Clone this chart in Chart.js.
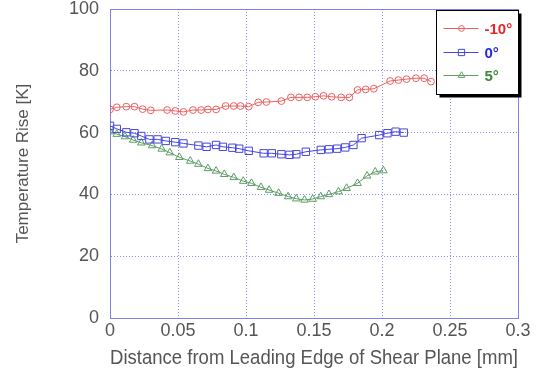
<!DOCTYPE html>
<html>
<head>
<meta charset="utf-8">
<script src="https://cdn.jsdelivr.net/npm/chart.js@4/dist/chart.umd.min.js"></script>
<style>
html,body{margin:0;padding:0;background:#fff;}
#wrap{width:536px;height:369px;position:relative;}
</style>
</head>
<body>
<div id="wrap"><canvas id="c" width="536" height="369"></canvas></div>
<script>
// ---- data ----
const seriesNames = ['-10°', '0°', '5°'];

const redX = [0, 0.005, 0.012, 0.018, 0.024, 0.030, 0.042, 0.048, 0.054, 0.061, 0.067, 0.072, 0.078, 0.085, 0.091, 0.096, 0.102, 0.109, 0.115, 0.126, 0.133, 0.139, 0.145, 0.151, 0.157, 0.163, 0.170, 0.176, 0.182, 0.188, 0.194, 0.206, 0.212, 0.218, 0.225, 0.231, 0.236];
const redY = [67.5, 68.2, 68.4, 68.4, 67.6, 67.2, 67.3, 67.0, 66.7, 67.3, 67.3, 67.5, 67.5, 68.6, 68.6, 68.6, 68.4, 69.8, 69.9, 70.2, 71.4, 71.4, 71.4, 71.6, 71.9, 71.6, 71.4, 71.4, 73.8, 74.0, 74.2, 76.7, 77.0, 77.3, 77.6, 77.6, 76.5];

const blueX = [0, 0.005, 0.012, 0.018, 0.023, 0.029, 0.035, 0.041, 0.048, 0.054, 0.065, 0.071, 0.078, 0.083, 0.090, 0.095, 0.102, 0.113, 0.119, 0.126, 0.132, 0.137, 0.144, 0.155, 0.161, 0.167, 0.173, 0.179, 0.185, 0.198, 0.204, 0.210, 0.216];
const blueY = [62.2, 61.2, 60.1, 59.8, 58.9, 57.8, 57.8, 57.3, 56.9, 56.5, 55.8, 55.4, 56.0, 55.4, 55.1, 54.8, 54.1, 53.3, 53.3, 53.0, 52.8, 53.0, 53.8, 54.4, 54.6, 54.8, 55.2, 56.0, 58.2, 59.2, 59.8, 60.3, 60.0];

const greenX = [0, 0.005, 0.011, 0.017, 0.023, 0.031, 0.038, 0.044, 0.051, 0.059, 0.065, 0.072, 0.078, 0.084, 0.091, 0.098, 0.104, 0.111, 0.117, 0.124, 0.131, 0.137, 0.143, 0.149, 0.155, 0.161, 0.168, 0.174, 0.182, 0.189, 0.195, 0.201];
const greenY = [60.3, 59.5, 58.7, 57.6, 56.7, 55.8, 54.7, 53.5, 52.0, 50.8, 49.8, 48.4, 47.6, 46.5, 45.5, 44.3, 43.6, 42.3, 41.4, 40.4, 39.3, 38.6, 38.2, 38.5, 39.3, 40.0, 40.9, 42.0, 43.6, 46.0, 47.3, 47.7];

const xTickLabels = ['0', '0.05', '0.1', '0.15', '0.2', '0.25', '0.3'];
const yTickLabels = ['0', '20', '40', '60', '80', '100'];
const xTitle = 'Distance from Leading Edge of Shear Plane [mm]';
const yTitle = 'Temperature Rise [K]';

// ---- styles ----
const lineColors = ['rgb(236,96,96)', 'rgb(70,70,222)', 'rgb(92,158,100)'];
const textColors = ['rgb(232,40,40)', 'rgb(40,40,220)', 'rgb(60,135,60)'];
const markerStyles = ['circle', 'rect', 'triangle'];
const markerRadius = [3.4, 5.2, 4.4];
const axisColor = 'rgb(128,128,232)';
const gridColor = 'rgb(140,140,236)';
const labelColor = 'rgb(85,85,85)';
const FONT = '"Liberation Sans", Arial, Helvetica, sans-serif';

function toPoints(xs, ys) { return xs.map((x, i) => ({x: x, y: ys[i]})); }

const seriesData = [toPoints(redX, redY), toPoints(blueX, blueY), toPoints(greenX, greenY)];

const datasets = seriesData.map((d, i) => ({
  label: seriesNames[i],
  data: d,
  showLine: true,
  borderColor: lineColors[i],
  borderWidth: 1,
  backgroundColor: 'rgba(0,0,0,0)',
  pointStyle: markerStyles[i],
  pointRadius: markerRadius[i],
  pointBorderWidth: 1,
  pointBorderColor: lineColors[i],
  pointBackgroundColor: 'rgba(0,0,0,0)',
  tension: 0,
  fill: false
}));

function drawMarker(ctx, style, x, y, r) {
  ctx.beginPath();
  if (style === 'circle') {
    ctx.arc(x, y, r, 0, Math.PI * 2);
  } else if (style === 'rect') {
    const s = Math.SQRT1_2 * r;
    ctx.rect(x - s, y - s, 2 * s, 2 * s);
  } else {
    ctx.moveTo(x, y - r);
    ctx.lineTo(x + r * Math.cos(Math.PI / 6), y + r / 2);
    ctx.lineTo(x - r * Math.cos(Math.PI / 6), y + r / 2);
    ctx.closePath();
  }
  ctx.stroke();
}

const framePlugin = {
  id: 'frame',
  beforeDatasetsDraw(chart) {
    const a = chart.chartArea, ctx = chart.ctx;
    ctx.save();
    ctx.strokeStyle = axisColor;
    ctx.lineWidth = 1;
    ctx.strokeRect(Math.round(a.left) + 0.5, Math.round(a.top) + 0.5, Math.round(a.right - a.left), Math.round(a.bottom - a.top));
    ctx.restore();
  }
};

const legendPlugin = {
  id: 'boxLegend',
  afterDatasetsDraw(chart) {
    const ctx = chart.ctx;
    const a = chart.chartArea;
    const bw = 82, bh = 84;
    const bx = Math.round(a.right) - bw + 0.5;
    const by = Math.round(a.top) + 1.5;
    ctx.save();
    ctx.fillStyle = '#000';
    ctx.fillRect(bx + 3, by + 3, bw, bh);
    ctx.fillStyle = '#fff';
    ctx.fillRect(bx, by, bw, bh);
    ctx.strokeStyle = '#000';
    ctx.lineWidth = 1;
    ctx.strokeRect(bx, by, bw, bh);
    const rowY = [by + 17.5, by + 41, by + 64];
    for (let i = 0; i < seriesNames.length; i++) {
      const y = Math.round(rowY[i]) + 0.5;
      ctx.strokeStyle = lineColors[i];
      ctx.lineWidth = 1;
      ctx.beginPath();
      ctx.moveTo(bx + 7, y);
      ctx.lineTo(bx + 42, y);
      ctx.stroke();
      drawMarker(ctx, markerStyles[i], bx + 25, y, markerRadius[i] * 0.85);
      ctx.fillStyle = textColors[i];
      ctx.font = 'bold 15px ' + FONT;
      ctx.textAlign = 'left';
      ctx.textBaseline = 'middle';
      ctx.fillText(seriesNames[i], bx + 48, y + 1);
    }
    ctx.restore();
  }
};

new Chart(document.getElementById('c'), {
  type: 'scatter',
  data: { datasets: datasets },
  options: {
    responsive: false,
    animation: false,
    layout: { padding: { left: 0, right: 18, top: 9, bottom: 0 } },
    plugins: { legend: { display: false }, tooltip: { enabled: false } },
    scales: {
      x: {
        type: 'linear',
        min: 0, max: 0.3,
        afterBuildTicks(s) { s.ticks = xTickLabels.map(t => ({value: parseFloat(t)})); },
        afterFit(s) { s.height = 51; s.paddingLeft = 0; s.paddingRight = 0; },
        ticks: {
          autoSkip: false,
          maxRotation: 0,
          padding: 2,
          color: labelColor,
          font: { family: FONT, size: 18 },
          callback(v, i) { return xTickLabels[i]; }
        },
        grid: { color: gridColor, lineWidth: 1, drawTicks: false },
        border: { display: true, color: axisColor, width: 1, dash: [1, 2] },
        title: {
          display: true, text: xTitle, color: labelColor,
          font: { family: FONT, size: 19.3, lineHeight: 1.1 },
          padding: { top: 0, bottom: 0 }
        }
      },
      y: {
        type: 'linear',
        min: 0, max: 100,
        afterBuildTicks(s) { s.ticks = yTickLabels.map(t => ({value: parseFloat(t)})); },
        afterFit(s) { s.width = 110; s.paddingTop = 0; s.paddingBottom = 0; },
        ticks: {
          autoSkip: false,
          padding: 11,
          color: labelColor,
          font: { family: FONT, size: 18 },
          callback(v, i) { return yTickLabels[i]; }
        },
        grid: { color: gridColor, lineWidth: 1, drawTicks: false },
        border: { display: true, color: axisColor, width: 1, dash: [1, 2] },
        title: {
          display: true, text: yTitle, color: labelColor,
          font: { family: FONT, size: 17, lineHeight: 1.2 },
          padding: { top: 13, bottom: 0 }
        }
      }
    }
  },
  plugins: [framePlugin, legendPlugin]
});
</script>
</body>
</html>
